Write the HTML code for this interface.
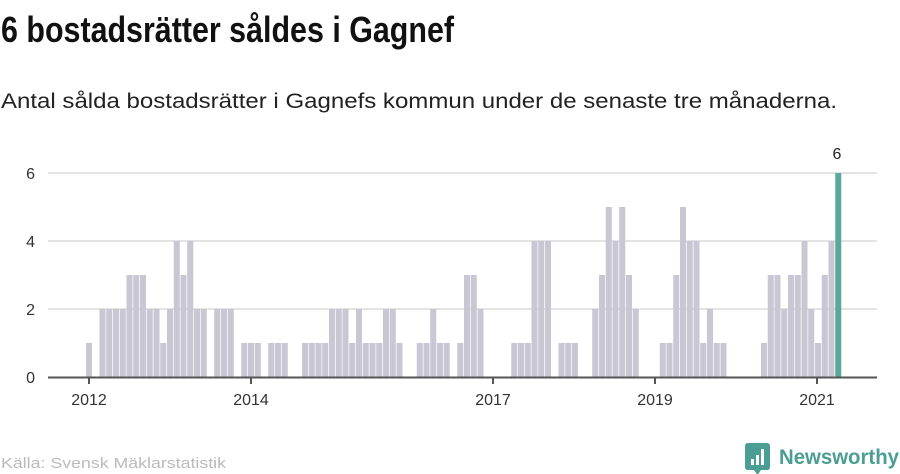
<!DOCTYPE html>
<html><head><meta charset="utf-8"><style>
html,body{margin:0;padding:0;background:#fff;}
svg{display:block;font-family:"Liberation Sans",sans-serif;}
</style></head><body>
<svg id="s" width="900" height="474" viewBox="0 0 900 474" xmlns="http://www.w3.org/2000/svg">
<text x="1" y="42" font-family="Liberation Sans Narrow, Liberation Sans, sans-serif" font-weight="bold" font-size="36" fill="#111" textLength="453" lengthAdjust="spacingAndGlyphs">6 bostadsrätter såldes i Gagnef</text>
<text x="1" y="108" font-size="21" fill="#222" textLength="836" lengthAdjust="spacingAndGlyphs">Antal sålda bostadsrätter i Gagnefs kommun under de senaste tre månaderna.</text>
<g stroke="#e3e3e3" stroke-width="2">
<line x1="48" y1="173" x2="877" y2="173"/>
<line x1="48" y1="241" x2="877" y2="241"/>
<line x1="48" y1="309" x2="877" y2="309"/>
</g>
<g font-size="16" fill="#333" text-anchor="end">
<text x="35" y="179">6</text><text x="35" y="247">4</text><text x="35" y="315">2</text><text x="35" y="383">0</text>
</g>
<g id="bars"></g>
<line x1="48" y1="377.5" x2="877" y2="377.5" stroke="#555" stroke-width="2"/>
<g stroke="#555" stroke-width="2">
<line x1="89" y1="377" x2="89" y2="384"/><line x1="251" y1="377" x2="251" y2="384"/>
<line x1="493" y1="377" x2="493" y2="384"/><line x1="655" y1="377" x2="655" y2="384"/>
<line x1="817" y1="377" x2="817" y2="384"/>
</g>
<g font-size="16" fill="#333" text-anchor="middle">
<text x="89" y="405">2012</text><text x="251" y="405">2014</text><text x="493" y="405">2017</text><text x="655" y="405">2019</text><text x="817" y="405">2021</text>
</g>
<text x="837" y="159" font-size="16" fill="#222" text-anchor="middle">6</text>
<text x="1" y="468" font-size="15" fill="#bbb" textLength="225" lengthAdjust="spacingAndGlyphs">Källa: Svensk Mäklarstatistik</text>
<g transform="translate(745,443)">
<path d="M0 3 Q0 0 3 0 L22 0 Q25 0 25 3 L25 24 Q25 27 22 27 L16 27 L12.5 32 L9 27 L3 27 Q0 27 0 24Z" fill="#4a9e94"/>
<rect x="6" y="16" width="3" height="6" fill="#fff"/><rect x="11" y="12" width="3" height="10" fill="#fff"/><rect x="16" y="6" width="3" height="16" fill="#fff"/>
</g>
<text x="779" y="464" font-size="21" font-weight="bold" fill="#4a9e94" textLength="120" lengthAdjust="spacingAndGlyphs">Newsworthy</text>
</svg>
<script>
var v={0:1,2:2,3:2,4:2,5:2,6:3,7:3,8:3,9:2,10:2,11:1,12:2,13:4,14:3,15:4,16:2,17:2,19:2,20:2,21:2,23:1,24:1,25:1,27:1,28:1,29:1,32:1,33:1,34:1,35:1,36:2,37:2,38:2,39:1,40:2,41:1,42:1,43:1,44:2,45:2,46:1,49:1,50:1,51:2,52:1,53:1,55:1,56:3,57:3,58:2,63:1,64:1,65:1,66:4,67:4,68:4,70:1,71:1,72:1,75:2,76:3,77:5,78:4,79:5,80:3,81:2,85:1,86:1,87:3,88:5,89:4,90:4,91:1,92:2,93:1,94:1,100:1,101:3,102:3,103:2,104:3,105:3,106:4,107:2,108:1,109:3,110:4,111:6};
var g=document.getElementById('bars'),h='';
for(var k in v){var i=+k,x=86+6.75*i,ht=v[k]*34;
h+='<rect x="'+x.toFixed(2)+'" y="'+(377-ht)+'" width="6" height="'+ht+'" fill="'+(i==111?'#5aa89a':'#c8c7d3')+'"/>';}
g.innerHTML=h;
</script>
</body></html>
